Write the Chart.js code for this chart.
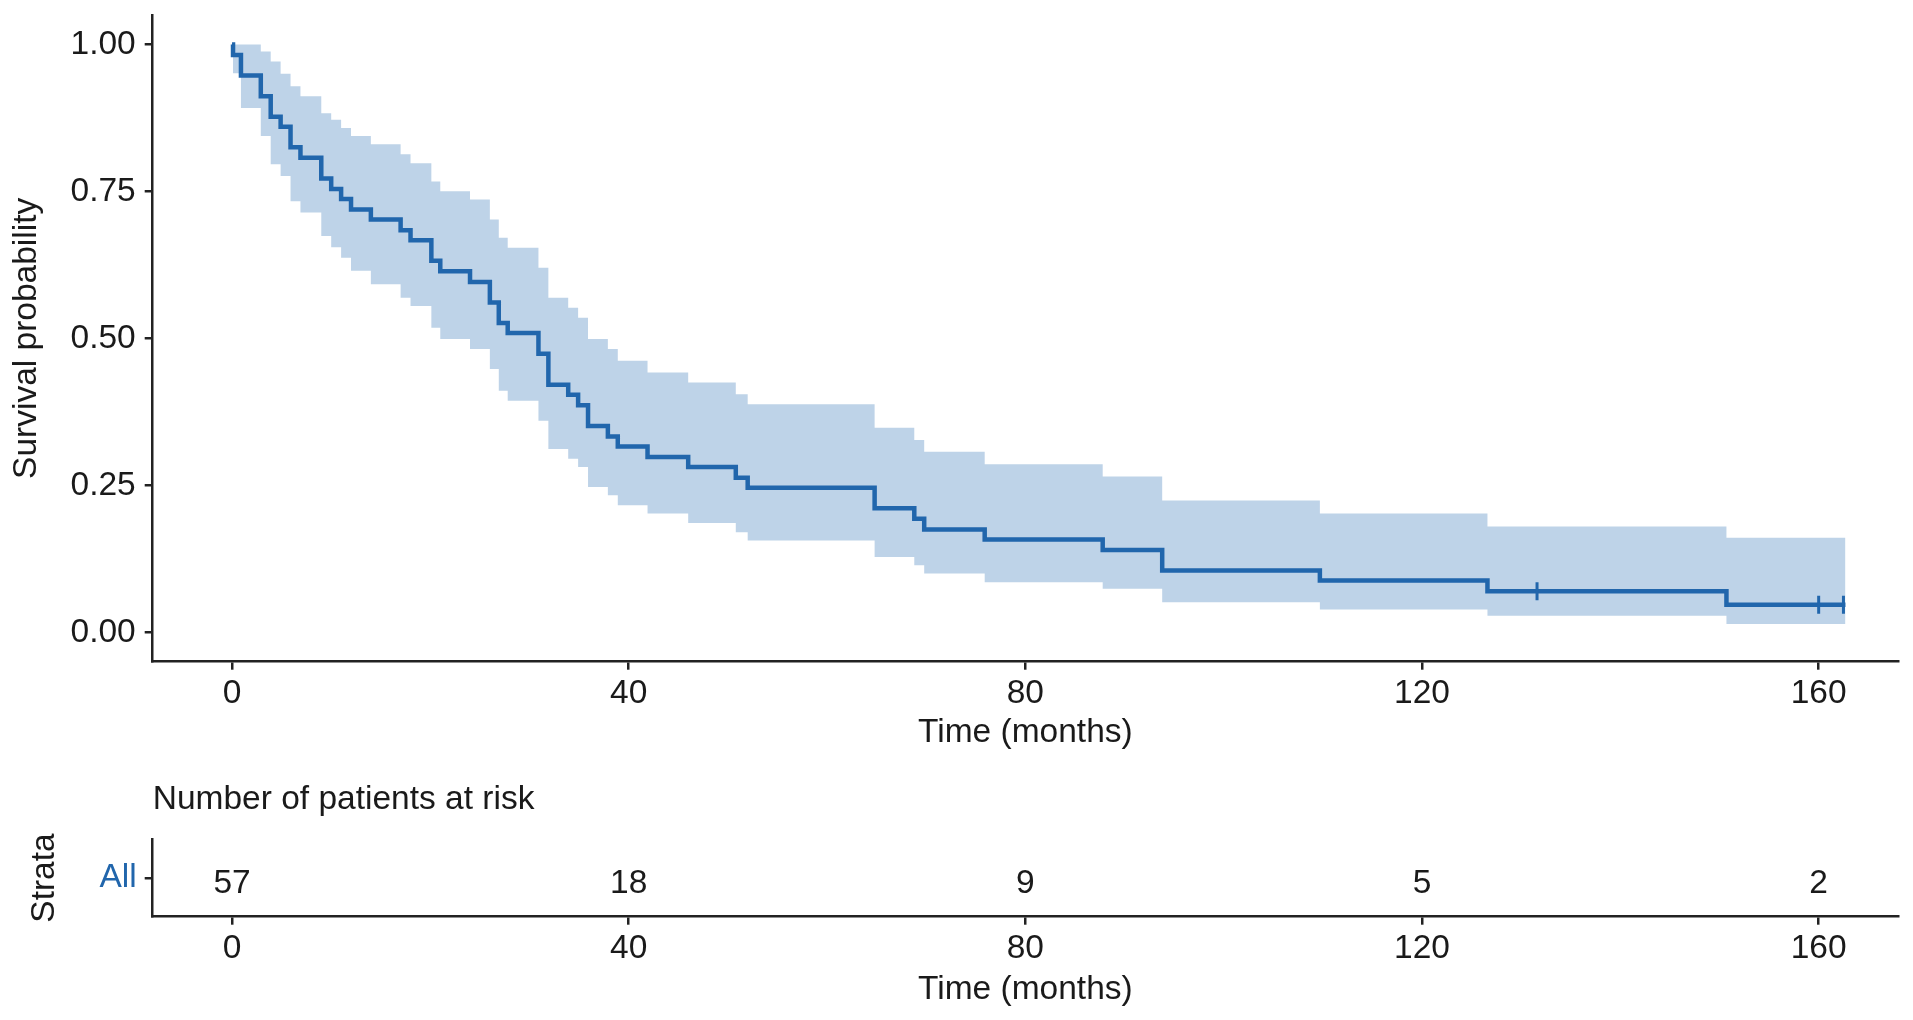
<!DOCTYPE html>
<html>
<head>
<meta charset="utf-8">
<script src="https://cdn.jsdelivr.net/npm/chart.js@4/dist/chart.umd.min.js"></script>
<style>
  html, body { margin: 0; padding: 0; background: #fff; }
  #km { position: absolute; left: 0; top: 0; }
  #risk { position: absolute; left: 0; top: 770px; }
</style>
</head>
<body>
<canvas id="km" width="1913" height="770"></canvas>
<canvas id="risk" width="1913" height="250"></canvas>
<script>
// Kaplan-Meier estimate (step starts)
const times = [0, 0.1, 0.9, 2.9, 3.9, 4.9, 5.9, 6.9, 9.0, 10.0, 11.0, 12.0, 14.0, 17.0, 18.0, 20.1, 21.0, 24.0, 26.0, 26.9, 27.8, 30.9, 31.9, 33.9, 34.9, 35.9, 37.9, 38.9, 41.9, 46.0, 50.8, 52.0, 64.8, 68.8, 69.8, 75.9, 87.8, 93.8, 109.7, 126.6, 150.7, 162.7];
const survival = [1.000, 0.982, 0.947, 0.912, 0.877, 0.860, 0.825, 0.807, 0.772, 0.754, 0.737, 0.719, 0.702, 0.684, 0.667, 0.632, 0.614, 0.596, 0.561, 0.526, 0.509, 0.474, 0.421, 0.404, 0.386, 0.351, 0.333, 0.316, 0.298, 0.281, 0.263, 0.246, 0.211, 0.193, 0.175, 0.158, 0.140, 0.105, 0.088, 0.070, 0.047, 0.047];
const upperCI = [1.000, 1.000, 1.000, 0.988, 0.971, 0.950, 0.929, 0.912, 0.883, 0.872, 0.858, 0.844, 0.830, 0.813, 0.798, 0.767, 0.750, 0.736, 0.702, 0.671, 0.654, 0.620, 0.569, 0.552, 0.535, 0.499, 0.482, 0.462, 0.442, 0.425, 0.405, 0.388, 0.348, 0.327, 0.307, 0.286, 0.265, 0.224, 0.202, 0.180, 0.161, 0.161];
const lowerCI = [1.000, 0.951, 0.892, 0.844, 0.796, 0.776, 0.733, 0.714, 0.674, 0.655, 0.637, 0.615, 0.592, 0.569, 0.555, 0.518, 0.499, 0.482, 0.448, 0.411, 0.394, 0.360, 0.312, 0.295, 0.281, 0.247, 0.233, 0.216, 0.202, 0.186, 0.170, 0.156, 0.128, 0.114, 0.100, 0.085, 0.074, 0.051, 0.039, 0.028, 0.014, 0.014];

// censored observations
const censorTimes = [131.6, 160.0, 162.5];
const censorSurv = [0.070, 0.047, 0.047];

// risk table
const strata = ['All'];
const riskTimes = [0, 40, 80, 120, 160];
const riskCounts = [57, 18, 9, 5, 2];

// axes
const xTicks = [0, 40, 80, 120, 160];
const yTicks = [0, 0.25, 0.5, 0.75, 1];

const lineBlue = '#2166ac';
const bandBlue = '#bed3e8';
const ink = '#1a1a1a';
const axisInk = '#222';
const family = '"Liberation Sans", Arial, sans-serif';
const fs = 33.5;

const pts = (xs, ys) => xs.map((x, i) => ({ x: x, y: ys[i] }));

const xAxis = (h, titlePad) => ({
  type: 'linear',
  min: -8,
  max: 168,
  afterBuildTicks: (s) => { s.ticks = xTicks.map(v => ({ value: v })); },
  afterFit: (s) => { s.height = h; s.paddingLeft = 0; s.paddingRight = 0; },
  border: { display: true, color: axisInk, width: 2.5 },
  grid: { drawOnChartArea: false, drawTicks: true, tickLength: 8, color: axisInk, lineWidth: 2.5 },
  ticks: { color: ink, font: { family: family, size: fs }, padding: 4, maxRotation: 0 },
  title: { display: true, text: 'Time (months)', color: ink, font: { family: family, size: fs }, padding: { top: 0, bottom: titlePad } }
});

new Chart(document.getElementById('km'), {
  type: 'line',
  data: {
    datasets: [
      {
        data: pts(censorTimes, censorSurv),
        showLine: false,
        pointStyle: 'line',
        rotation: 90,
        pointRadius: 9,
        pointBorderWidth: 3,
        borderColor: lineBlue,
        pointBorderColor: lineBlue
      },
      {
        data: pts(times, survival),
        stepped: 'before',
        borderColor: lineBlue,
        borderWidth: 4.5,
        pointRadius: 0,
        fill: false
      },
      {
        data: pts(times, upperCI),
        stepped: 'before',
        borderWidth: 0,
        pointRadius: 0,
        backgroundColor: bandBlue,
        fill: '+1'
      },
      {
        data: pts(times, lowerCI),
        stepped: 'before',
        borderWidth: 0,
        pointRadius: 0,
        fill: false
      }
    ]
  },
  options: {
    responsive: false,
    animation: false,
    layout: { padding: { left: 0, right: 15, top: 15, bottom: 0 } },
    plugins: { legend: { display: false }, tooltip: { enabled: false } },
    scales: {
      x: xAxis(108.3, 17.5),
      y: {
        type: 'linear',
        min: -0.05,
        max: 1.05,
        afterBuildTicks: (s) => { s.ticks = yTicks.map(v => ({ value: v })); },
        afterFit: (s) => { s.width = 152.7; s.paddingTop = 0; s.paddingBottom = 0; },
        border: { display: true, color: axisInk, width: 2.5 },
        grid: { drawOnChartArea: false, drawTicks: true, tickLength: 8, color: axisInk, lineWidth: 2.5 },
        ticks: { color: ink, font: { family: family, size: fs }, padding: 9, callback: (v) => v.toFixed(2) },
        title: { display: true, text: 'Survival probability', color: ink, font: { family: family, size: fs }, padding: { top: 7, bottom: 0 } }
      }
    }
  }
});

const riskLabels = {
  id: 'riskLabels',
  afterDatasetsDraw(chart) {
    const meta = chart.getDatasetMeta(0);
    const ctx = chart.ctx;
    ctx.save();
    ctx.font = fs + 'px ' + family;
    ctx.fillStyle = ink;
    ctx.textAlign = 'center';
    ctx.textBaseline = 'middle';
    meta.data.forEach((p, i) => ctx.fillText(String(riskCounts[i]), p.x, p.y + 6));
    ctx.restore();
  }
};

new Chart(document.getElementById('risk'), {
  type: 'line',
  data: {
    datasets: [{
      data: riskTimes.map(t => ({ x: t, y: strata[0] })),
      showLine: false,
      pointRadius: 0
    }]
  },
  options: {
    responsive: false,
    animation: false,
    layout: { padding: { left: 0, right: 15, top: 0, bottom: 0 } },
    plugins: {
      legend: { display: false },
      tooltip: { enabled: false },
      title: {
        display: true,
        text: 'Number of patients at risk',
        align: 'start',
        fullSize: false,
        color: ink,
        font: { family: family, size: fs, weight: 'normal' },
        padding: { top: 10, bottom: 19.1 }
      }
    },
    scales: {
      x: xAxis(103.3, 10.5),
      y: {
        type: 'category',
        labels: strata,
        offset: true,
        afterFit: (s) => { s.width = 152.7; s.paddingTop = 0; s.paddingBottom = 0; },
        border: { display: true, color: axisInk, width: 2.5 },
        grid: { drawOnChartArea: false, drawTicks: true, tickLength: 8, color: axisInk, lineWidth: 2.5 },
        ticks: { color: lineBlue, font: { family: family, size: fs }, padding: 8 },
        title: { display: true, text: 'Strata', color: ink, font: { family: family, size: fs }, padding: { top: 25, bottom: 0 } }
      }
    }
  },
  plugins: [riskLabels]
});
</script>
</body>
</html>
